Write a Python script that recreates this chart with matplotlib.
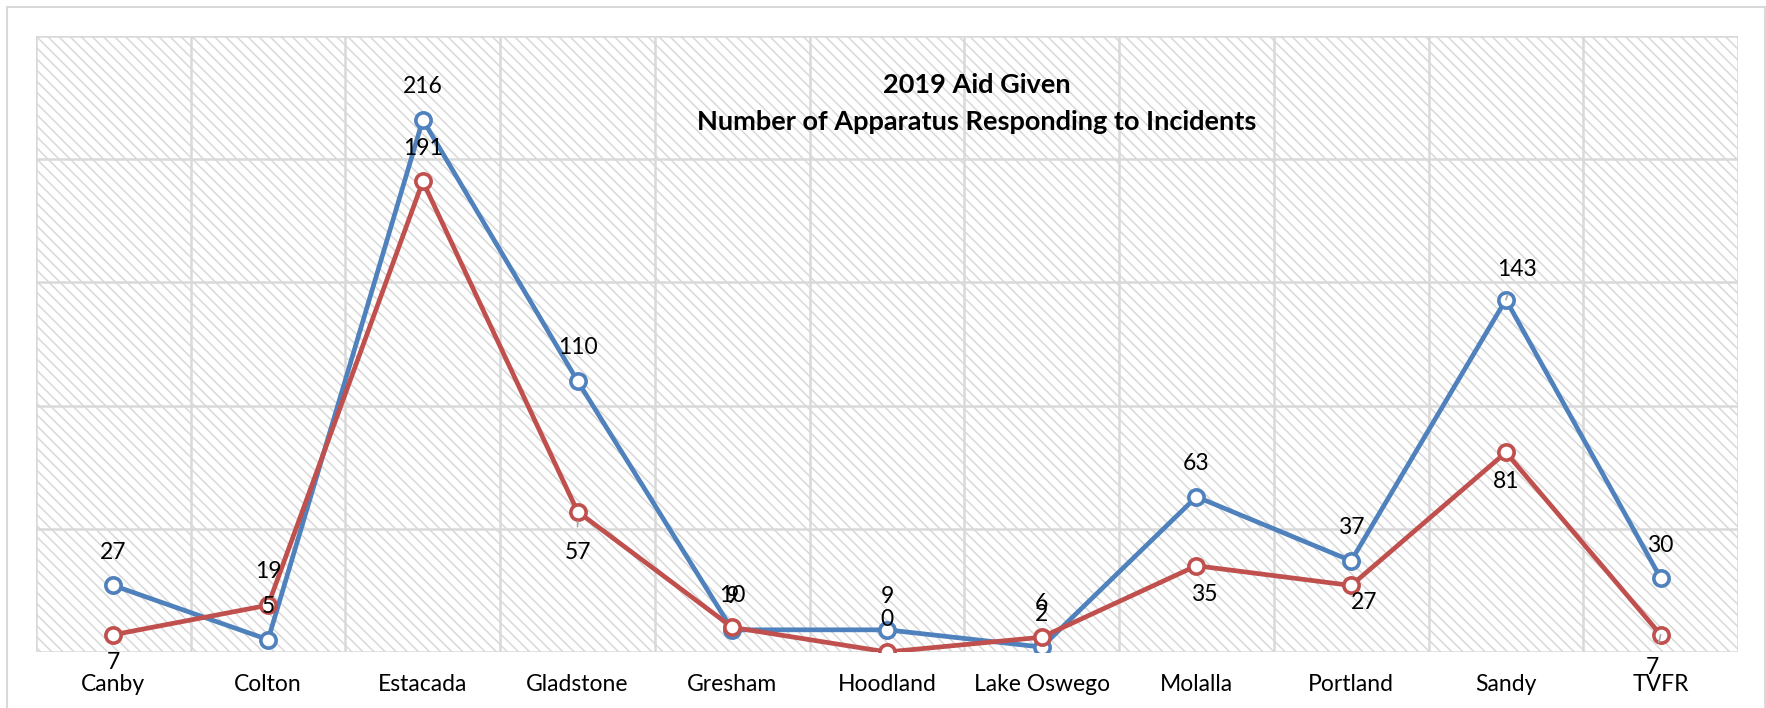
import matplotlib

matplotlib.use("Agg")
import matplotlib.pyplot as plt
from matplotlib.patches import Rectangle

plt.rcParams["font.family"] = ["Lato", "DejaVu Sans"]
plt.rcParams["hatch.linewidth"] = 1.1
plt.rcParams["hatch.color"] = "#d8d8d8"

categories = ["Canby", "Colton", "Estacada", "Gladstone", "Gresham", "Hoodland",
              "Lake Oswego", "Molalla", "Portland", "Sandy", "TVFR"]
apparatus_a = [27, 5, 216, 110, 9, 9, 2, 63, 37, 143, 30]
apparatus_b = [7, 19, 191, 57, 10, 0, 6, 35, 27, 81, 7]
y_ticks = [0, 50, 100, 150, 200, 250]

BLUE = "#4f81bd"
RED = "#c0504d"
GRID = "#d9d9d9"

# label offsets in pixels (dx, dy) relative to each marker
offs_a = [(0, 33)] * 11
offs_a[9] = (11, 30)
offs_b = [(0, -28), (0, 34), (0, 33), (0, -41), (0, 32), (0, 33),
          (0, 34), (8, -29), (13, -17), (0, -29), (-8, -33)]
leaders_a = {9}
leaders_b = {3, 10}

W, H = 1766, 708
fig = plt.figure(figsize=(W / 100, H / 100), dpi=100)
fig.patches.append(Rectangle((7 / W, -0.1), (1765 - 7) / W, (708 - 7) / H + 0.1,
                             transform=fig.transFigure, fill=False,
                             edgecolor="#d9d9d9", lw=1.5))

left, right, top, bottom = 36, 1738, 36, 652
ax = fig.add_axes([left / W, (H - bottom) / H, (right - left) / W, (bottom - top) / H])
ax.set_facecolor("white")
ax.add_patch(Rectangle((0, 0), 1, 1, transform=ax.transAxes, facecolor="white",
                       edgecolor="#d8d8d8", hatch="\\\\\\", lw=0, zorder=0))

x = list(range(len(categories)))
ax.set_xlim(-0.5, len(categories) - 0.5)
ax.set_ylim(y_ticks[0], y_ticks[-1])

for b in [i - 0.5 for i in range(len(categories) + 1)]:
    ax.axvline(b, color=GRID, lw=1.8, zorder=1)
for t in y_ticks:
    ax.axhline(t, color=GRID, lw=1.8, zorder=1)

for s in ax.spines.values():
    s.set_visible(False)

ax.plot(x, apparatus_a, color=BLUE, lw=3.4, marker="o", ms=11, mfc="white",
        mec=BLUE, mew=2.6, zorder=3, solid_joinstyle="round")
ax.plot(x, apparatus_b, color=RED, lw=3.4, marker="o", ms=11, mfc="white",
        mec=RED, mew=2.6, zorder=4, solid_joinstyle="round")

px = 72 / 100


def label(vals, offs, leaders):
    for i, v in enumerate(vals):
        dx, dy = offs[i]
        ap = None
        if i in leaders:
            ap = dict(arrowstyle="-", color="#a6a6a6", lw=1.2, shrinkA=9, shrinkB=7)
        ax.annotate(str(v), (i, v), xytext=(dx * px, dy * px), textcoords="offset points",
                    ha="center", va="center", fontsize=16.5, color="black", zorder=6,
                    arrowprops=ap)


label(apparatus_a, offs_a, leaders_a)
label(apparatus_b, offs_b, leaders_b)

ax.set_xticks(x)
ax.set_xticklabels(categories, fontsize=16.5)
ax.set_yticks([])
ax.tick_params(axis="x", length=0, pad=16)

fig.text(977 / W, 1 - 85 / H, "2019 Aid Given", ha="center", va="center",
         fontsize=19.5, fontweight="bold")
fig.text(977 / W, 1 - 122 / H, "Number of Apparatus Responding to Incidents",
         ha="center", va="center", fontsize=19.5, fontweight="bold")

fig.savefig("out.png", dpi=100)
